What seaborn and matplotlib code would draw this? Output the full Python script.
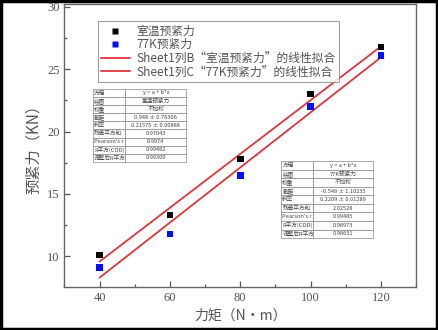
import numpy as np
import pandas as pd
import matplotlib
matplotlib.use("Agg")
import matplotlib.pyplot as plt
from matplotlib.patches import Rectangle
from matplotlib.lines import Line2D
from matplotlib.ticker import MultipleLocator
import seaborn as sns

# Measured preload vs. torque
torque = [40, 60, 80, 100, 120]
preload_room = [10.1, 13.3, 17.8, 23.0, 26.8]
preload_77k = [9.1, 11.8, 16.5, 22.0, 26.1]

series_names = ["室温预紧力", "77K预紧力"]
fit_names = ["Sheet1列B“室温预紧力”的线性拟合", "Sheet1列C“77K预紧力”的线性拟合"]

# Linear fit results (y = a + b*x)
fit_intercept = [0.948, -0.548]
fit_slope = [0.21575, 0.2209]

table_room = [
    ["方程", "y = a + b*x"],
    ["绘图", "室温预紧力"],
    ["权重", "不加权"],
    ["截距", "0.948 ± 0.76306"],
    ["斜率", "0.21575 ± 0.00888"],
    ["残差平方和", "0.97043"],
    ["Pearson's r", "0.9974"],
    ["R平方(COD)", "0.99482"],
    ["调整后R平方", "0.99309"],
]
table_77k = [
    ["方程", "y = a + b*x"],
    ["绘图", "77K预紧力"],
    ["权重", "不加权"],
    ["截距", "-0.548 ± 1.10235"],
    ["斜率", "0.2209 ± 0.01289"],
    ["残差平方和", "2.02528"],
    ["Pearson's r", "0.99485"],
    ["R平方(COD)", "0.98973"],
    ["调整后R平方", "0.98631"],
]

sns.set_theme(style="ticks")
plt.rcParams["font.family"] = ["Noto Sans CJK SC", "DejaVu Sans"]

points = pd.DataFrame({
    "torque": torque * 2,
    "preload": preload_room + preload_77k,
    "series": [series_names[0]] * len(torque) + [series_names[1]] * len(torque),
})

x_fit = np.array([torque[0], torque[-1]], dtype=float)
fit_rows = []
for name, a, b in zip(fit_names, fit_intercept, fit_slope):
    for xv in x_fit:
        fit_rows.append({"torque": xv, "preload": a + b * xv, "fit": name})
fits = pd.DataFrame(fit_rows)

fig = plt.figure(figsize=(4.38, 3.30), dpi=100)
ax = fig.add_axes([0.147, 0.130, 0.803, 0.858])

red = "#e2343a"
sns.lineplot(data=fits, x="torque", y="preload", hue="fit",
             palette=[red, red], linewidth=1.3, ax=ax, legend=False)
sns.scatterplot(data=points, x="torque", y="preload", hue="series",
                palette=["#000000", "#0010ff"], marker="s", s=22,
                edgecolor="none", ax=ax, legend=False, zorder=5)

ax.set_xlim(30, 130)
ax.set_ylim(7.53, 30.24)
ax.xaxis.set_major_locator(MultipleLocator(20))
ax.xaxis.set_minor_locator(MultipleLocator(10))
ax.yaxis.set_major_locator(MultipleLocator(5))
ax.yaxis.set_minor_locator(MultipleLocator(2.5))
ax.tick_params(which="both", direction="in", color="#555555", width=0.9,
               top=False, right=False, labelsize=9, labelcolor="#555555")
ax.tick_params(which="major", length=4)
ax.tick_params(which="minor", length=2)
for lab in ax.get_xticklabels() + ax.get_yticklabels():
    lab.set_family("Liberation Serif")
for sp in ax.spines.values():
    sp.set_color("#666666")
    sp.set_linewidth(1.0)
    sp.set_visible(True)

ax.set_xlabel("力矩（N·m）", fontsize=10, color="#555555", labelpad=3)
ax.set_ylabel("预紧力（KN）", fontsize=11, color="#555555", labelpad=4)

# Legend
handles = [
    Line2D([], [], marker="s", color="none", markerfacecolor="#000000",
           markeredgecolor="none", markersize=5),
    Line2D([], [], marker="s", color="none", markerfacecolor="#0010ff",
           markeredgecolor="none", markersize=5),
    Line2D([], [], color=red, linewidth=1.3),
    Line2D([], [], color=red, linewidth=1.3),
]
leg = ax.legend(handles, series_names + fit_names, loc="upper left",
                bbox_to_anchor=(0.078, 0.96), fontsize=8.5, frameon=True,
                fancybox=False, edgecolor="#888888", handlelength=2.4,
                handletextpad=0.6, borderpad=0.3, labelspacing=0.05)
leg.get_frame().set_linewidth(0.8)
for t in leg.get_texts():
    t.set_color("#555555")


def draw_table(rows, bbox):
    tb = ax.table(cellText=rows, cellLoc="center", bbox=bbox,
                  colWidths=[0.35, 0.65], zorder=6)
    tb.auto_set_font_size(False)
    for (r, c), cell in tb.get_celld().items():
        cell.set_edgecolor("#888888")
        cell.set_linewidth(0.5)
        cell.set_facecolor("white")
        cell.get_text().set_fontsize(4.1)
        cell.get_text().set_color("#444444")
        if c == 0:
            cell._loc = "left"
            cell.get_text().set_ha("left")
            cell.PAD = 0.04
    return tb


draw_table(table_room, [0.081, 0.442, 0.265, 0.258])
draw_table(table_77k, [0.616, 0.173, 0.262, 0.272])

# Black frame around the whole figure
fig.patches.append(Rectangle((0.003, 0.004), 0.994, 0.992, transform=fig.transFigure,
                             fill=False, edgecolor="black", linewidth=2.5))

fig.savefig("out.png", dpi=100, facecolor="white")
